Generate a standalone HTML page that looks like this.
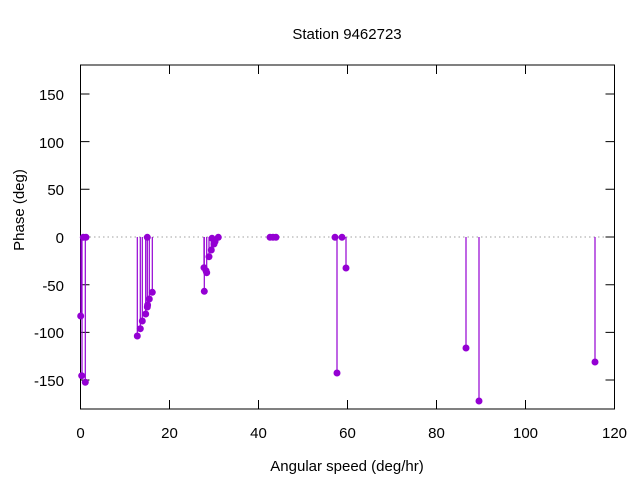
<!DOCTYPE html>
<html><head><style>body{margin:0;background:#fff}svg{display:block}text{font-family:"Liberation Sans","DejaVu Sans",sans-serif;font-size:15px;fill:#000}</style></head><body>
<svg width="640" height="480" viewBox="0 0 640 480">
<text x="347" y="39" text-anchor="middle">Station 9462723</text>
<text x="347" y="471" text-anchor="middle">Angular speed (deg/hr)</text>
<text transform="translate(24,210) rotate(-90)" text-anchor="middle">Phase (deg)</text>
<g text-anchor="end">
<text x="64" y="100">150</text><text x="64" y="148">100</text><text x="64" y="195">50</text><text x="64" y="243">0</text><text x="64" y="291">-50</text><text x="64" y="338">-100</text><text x="64" y="386">-150</text>
</g>
<g text-anchor="middle">
<text x="80.5" y="438">0</text><text x="169.5" y="438">20</text><text x="258.5" y="438">40</text><text x="347.5" y="438">60</text><text x="436.5" y="438">80</text><text x="525.5" y="438">100</text><text x="614.5" y="438">120</text>
</g>
<line x1="80.5" y1="237" x2="614.5" y2="237" stroke="#a0a0a0" stroke-width="1" stroke-dasharray="1.5,3"/>
<g stroke="#000" stroke-width="1">
<path d="M80.5 94h9M614.5 94h-9M80.5 141.6h9M614.5 141.6h-9M80.5 189.3h9M614.5 189.3h-9M80.5 237h9M614.5 237h-9M80.5 284.7h9M614.5 284.7h-9M80.5 332.4h9M614.5 332.4h-9M80.5 380h9M614.5 380h-9"/>
<path d="M169.5 409v-9M169.5 65v9M258.5 409v-9M258.5 65v9M347.5 409v-9M347.5 65v9M436.5 409v-9M436.5 65v9M525.5 409v-9M525.5 65v9"/>
<rect x="80.5" y="65" width="534" height="344" fill="none"/>
</g>
<g stroke="#9400d3" stroke-width="1.2">
<path d="M81 237V316M82 237V375.7M85.3 237V382.3M137.3 237V336M140.3 237V328.7M142.3 237V321M145.7 237V314M147.3 237V307M149.3 237V299M152.3 237V292.3M204.3 237V291.3M204 237V267.7M206.7 237V272.7M209 237V256.7M211.3 237V250M214 237V244M337 237V373M346 237V268M466 237V348M479 237V401M595 237V362"/>
</g>
<g fill="#9400d3">
<circle cx="80.7" cy="316" r="3.5"/><circle cx="81.7" cy="375.7" r="3.5"/><circle cx="85.3" cy="382.3" r="3.5"/><circle cx="83.3" cy="237.3" r="3.5"/><circle cx="86" cy="237.3" r="3.5"/>
<circle cx="137.3" cy="336" r="3.5"/><circle cx="140.3" cy="328.7" r="3.5"/><circle cx="142.3" cy="321" r="3.5"/><circle cx="145.7" cy="314" r="3.5"/><circle cx="147.3" cy="307" r="3.5"/><circle cx="147.6" cy="305" r="3.5"/><circle cx="149.3" cy="299" r="3.5"/><circle cx="152.3" cy="292.3" r="3.5"/><circle cx="147.3" cy="237.3" r="3.5"/>
<circle cx="204.3" cy="291.3" r="3.5"/><circle cx="204" cy="267.7" r="3.5"/><circle cx="206.7" cy="272.7" r="3.5"/><circle cx="206" cy="270.7" r="3.5"/><circle cx="209" cy="256.7" r="3.5"/><circle cx="211.3" cy="250" r="3.5"/><circle cx="214" cy="244" r="3.5"/><circle cx="212" cy="238.3" r="3.5"/><circle cx="215" cy="241.6" r="3.5"/><circle cx="218.3" cy="237.3" r="3.5"/>
<circle cx="270" cy="237.3" r="3.5"/><circle cx="273" cy="237.3" r="3.5"/><circle cx="276" cy="237.3" r="3.5"/>
<circle cx="335" cy="237.3" r="3.5"/><circle cx="337" cy="373" r="3.5"/><circle cx="342" cy="237.3" r="3.5"/><circle cx="346" cy="268" r="3.5"/>
<circle cx="466" cy="348" r="3.5"/><circle cx="479" cy="401" r="3.5"/><circle cx="595" cy="362" r="3.5"/>
</g>
</svg>
</body></html>
